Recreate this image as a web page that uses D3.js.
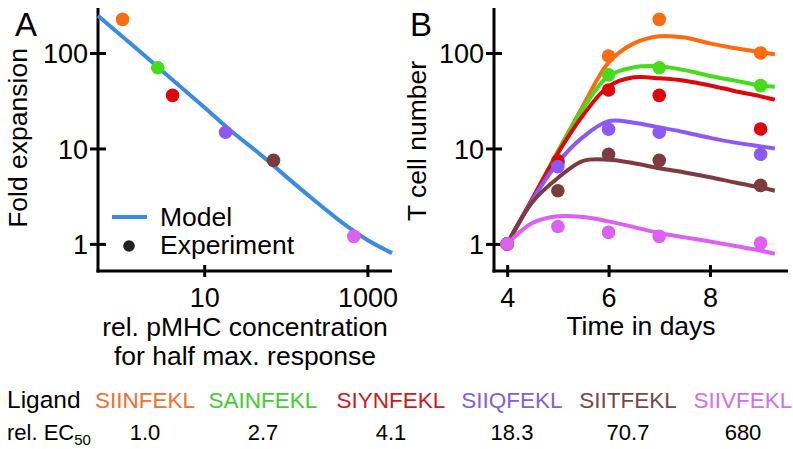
<!DOCTYPE html>
<html><head><meta charset="utf-8">
<script src="https://cdn.jsdelivr.net/npm/d3@7"></script>
<style>
body{margin:0;background:#fff;}
svg{display:block;font-family:"Liberation Sans",Arial,sans-serif;}
.axis path,.axis line{stroke:#000;stroke-width:3px;}
.axis text{font-size:27px;fill:#000;font-family:"Liberation Sans",Arial,sans-serif;}
</style></head>
<body>
<svg id="chart" width="793" height="449"></svg>
<script>
// ---- data ----
const ligands = ["SIINFEKL","SAINFEKL","SIYNFEKL","SIIQFEKL","SIITFEKL","SIIVFEKL"];
const dotColors = ["#fb6c10","#45dc1c","#e0060e","#8c58f6","#7c3c3e","#de60f2"];
const textColors = ["#f07030","#44cc33","#cc1a22","#8060e0","#7a4545","#d070ee"];
const ec50 = [1.0, 2.7, 4.1, 18.3, 70.7, 680];
const ec50Labels = ["1.0","2.7","4.1","18.3","70.7","680"];
const foldExpansion = [225, 70, 36, 14.8, 7.5, 1.2];
const modelConc = [0.5,1,2,5,10,20,50,100,200,500,1000,2000];
const modelFold = [245,148,89,45,27,16,8.5,5.1,3.1,1.65,1.1,0.8];
const xTicksA = [10, 1000];
const yTicks = [1, 10, 100];
const xTicksB = [4, 6, 8];

const days = [4, 5, 6, 7, 9];
const cellsSIINFEKL = [1, 7.2, 93, 225, 100];
const cellsSAINFEKL = [1, 7.0, 59, 70, 45.5];
const cellsSIYNFEKL = [1, 7.4, 41, 36, 16];
const cellsSIIQFEKL = [1, 6.45, 15.9, 14.8, 8.7];
const cellsSIITFEKL = [1, 3.6, 8.7, 7.5, 4.1];
const cellsSIIVFEKL = [1, 1.52, 1.32, 1.2, 1.02];

const modelDays = [4,4.5,5,5.5,6,6.5,7,7.5,8,8.5,9,9.28];
const modelSIINFEKL = [1,3.0,9.3,28.2,79.4,126,150,145,126,112,102,97];
const modelSAINFEKL = [1,3.0,9.3,26.3,57.5,70.8,72.4,66.1,57.5,51.3,45.7,44.2];
const modelSIYNFEKL = [1,3.0,8.9,22.4,44.7,55.6,54.3,51.3,45.7,39.8,35.1,32.4];
const modelSIIQFEKL = [1,2.9,7.1,13.2,19.3,18.6,16.6,14.8,12.9,11.5,10.5,10];
const modelSIITFEKL = [1,2.75,4.9,7.4,7.6,7.0,6.2,5.6,5.0,4.4,3.9,3.6];
const modelSIIVFEKL = [1,1.66,1.95,1.91,1.72,1.50,1.30,1.17,1.06,0.95,0.85,0.785];

const cells = [cellsSIINFEKL,cellsSAINFEKL,cellsSIYNFEKL,cellsSIIQFEKL,cellsSIITFEKL,cellsSIIVFEKL];
const models = [modelSIINFEKL,modelSAINFEKL,modelSIYNFEKL,modelSIIQFEKL,modelSIITFEKL,modelSIIVFEKL];

const svg = d3.select("#chart");
const FS = 26.5;

// ---- Panel A ----
const xA = d3.scaleLog().domain([0.5, 2000]).range([98, 392]);
const yS = d3.scaleLog().domain([0.52, 296]).range([271, 8]);

const gA = svg.append("g");
const axAy = gA.append("g").attr("class","axis").attr("transform","translate(98,0)")
  .call(d3.axisLeft(yS).tickValues(yTicks).tickFormat(d3.format("d")).tickSize(8).tickSizeOuter(0));
const axAx = gA.append("g").attr("class","axis").attr("transform","translate(0,271)")
  .call(d3.axisBottom(xA).tickValues(xTicksA).tickFormat(d3.format("d")).tickSize(6).tickSizeOuter(0));

function styleAxes(axY, axX){
  axY.select(".domain").attr("d", null);
  axY.selectAll(".tick line").attr("x1", -8).attr("x2", 8);
  axY.selectAll(".tick text").attr("x", -10).attr("dy", "0.36em");
  axX.select(".domain").attr("d", null);
  axX.selectAll(".tick line").attr("y1", -6).attr("y2", 6);
  axX.selectAll(".tick text").attr("y", 36).attr("dy", 0);
}
styleAxes(axAy, axAx);
gA.append("line").attr("x1",98).attr("x2",98).attr("y1",yS.range()[1]).attr("y2",yS.range()[0]+1.5).attr("stroke","#000").attr("stroke-width",3);
gA.append("line").attr("x1",96.5).attr("x2",xA.range()[1]).attr("y1",271).attr("y2",271).attr("stroke","#000").attr("stroke-width",3);

const lineA = d3.line().x((d,i)=>xA(modelConc[i])).y(d=>yS(d)).curve(d3.curveCatmullRom);
gA.append("path").datum(modelFold).attr("d", lineA).attr("fill","none")
  .attr("stroke","#3a8be2").attr("stroke-width",4);

gA.selectAll("circle.exp").data(foldExpansion).join("circle").attr("class","exp")
  .attr("cx",(d,i)=>xA(ec50[i])).attr("cy",d=>yS(d)).attr("r",6.8)
  .attr("fill",(d,i)=>dotColors[i]);

gA.append("text").attr("x",15).attr("y",36).attr("font-size",33).text("A");
gA.append("text").attr("transform","translate(27,138) rotate(-90)").attr("text-anchor","middle")
  .attr("font-size",FS).text("Fold expansion");
gA.append("text").attr("x",245).attr("y",336).attr("text-anchor","middle").attr("font-size",FS).text("rel. pMHC concentration");
gA.append("text").attr("x",245).attr("y",365).attr("text-anchor","middle").attr("font-size",FS).text("for half max. response");

// legend
gA.append("line").attr("x1",112).attr("x2",147).attr("y1",217).attr("y2",217).attr("stroke","#3a8be2").attr("stroke-width",4);
gA.append("text").attr("x",160).attr("y",226).attr("font-size",FS).text("Model");
gA.append("circle").attr("cx",129).attr("cy",246).attr("r",5.8).attr("fill","#222");
gA.append("text").attr("x",160).attr("y",254).attr("font-size",FS).text("Experiment");

// ---- Panel B ----
const xB = d3.scaleLinear().domain([3.74, 9.54]).range([494, 788]);
const gB = svg.append("g");
const axBy = gB.append("g").attr("class","axis").attr("transform","translate(494,0)")
  .call(d3.axisLeft(yS).tickValues(yTicks).tickFormat(d3.format("d")).tickSize(8).tickSizeOuter(0));
const axBx = gB.append("g").attr("class","axis").attr("transform","translate(0,271)")
  .call(d3.axisBottom(xB).tickValues(xTicksB).tickFormat(d3.format("d")).tickSize(6).tickSizeOuter(0));
styleAxes(axBy, axBx);
gB.append("line").attr("x1",494).attr("x2",494).attr("y1",yS.range()[1]).attr("y2",272.5).attr("stroke","#000").attr("stroke-width",3);
gB.append("line").attr("x1",492.5).attr("x2",xB.range()[1]).attr("y1",271).attr("y2",271).attr("stroke","#000").attr("stroke-width",3);

const lineB = d3.line().x((d,i)=>xB(modelDays[i])).y(d=>yS(d)).curve(d3.curveCatmullRom);
models.forEach((m,k)=>{
  gB.append("path").datum(m).attr("d", lineB).attr("fill","none")
    .attr("stroke",dotColors[k]).attr("stroke-width",4);
});
cells.forEach((c,k)=>{
  gB.selectAll("circle.s"+k).data(c).join("circle").attr("class","s"+k)
    .attr("cx",(d,i)=>xB(days[i])).attr("cy",d=>yS(d)).attr("r",6.8)
    .attr("fill",dotColors[k]);
});

gB.append("text").attr("x",410).attr("y",36).attr("font-size",33).text("B");
gB.append("text").attr("transform","translate(426,141) rotate(-90)").attr("text-anchor","middle")
  .attr("font-size",FS).text("T cell number");
gB.append("text").attr("x",641).attr("y",335).attr("text-anchor","middle").attr("font-size",FS).text("Time in days");

// ---- Ligand table ----
const colX = [145, 263, 391, 512, 628, 743];
const gT = svg.append("g");
gT.append("text").attr("x",7).attr("y",408).attr("font-size",24.5).text("Ligand");
const ecT = gT.append("text").attr("x",7).attr("y",440).attr("font-size",22);
ecT.append("tspan").text("rel. EC");
ecT.append("tspan").attr("dy",5).attr("font-size",15).text("50");
gT.selectAll("text.lig").data(ligands).join("text").attr("class","lig")
  .attr("x",(d,i)=>colX[i]).attr("y",408).attr("text-anchor","middle").attr("font-size",22.5)
  .attr("fill",(d,i)=>textColors[i]).text(d=>d);
gT.selectAll("text.ec").data(ec50Labels).join("text").attr("class","ec")
  .attr("x",(d,i)=>colX[i]).attr("y",440).attr("text-anchor","middle").attr("font-size",22)
  .attr("fill","#000").text(d=>d);
</script>
</body></html>
